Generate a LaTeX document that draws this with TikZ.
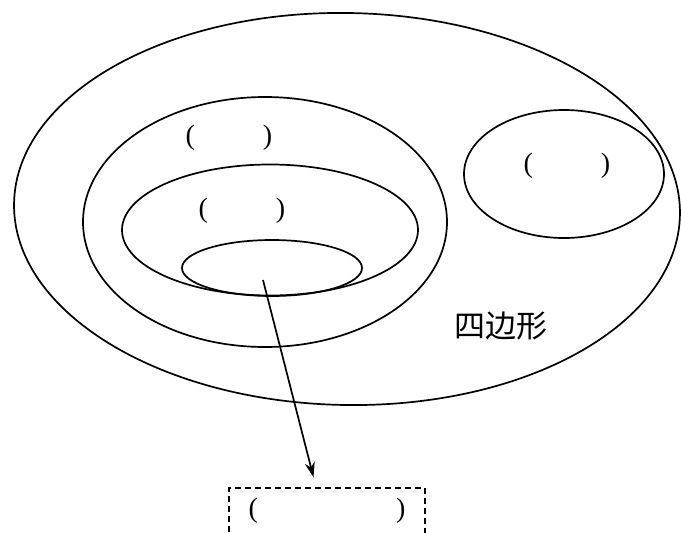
\documentclass[tikz,border=0pt]{standalone}
\usepackage{fontspec}
\setmainfont{Liberation Serif}
\newfontfamily\cjk{Noto Sans CJK SC}
\usetikzlibrary{shapes.geometric, arrows.meta, positioning}

\begin{document}
\begin{tikzpicture}[x=1pt,y=-1pt,>={Stealth[length=15pt,width=10pt]},line width=1.7pt,
            set/.style={draw,ellipse,inner sep=0pt},
            blank/.style={font=\fontsize{28}{28}\selectfont}]
            \useasboundingbox (0,0) rectangle (681,533);
            \clip (0,0) rectangle (681,533);
            \node[set,minimum width=666,minimum height=392,rotate=-1] (quad)  at (347,209) {};
            \node[set,minimum width=364,minimum height=250] (para)  at (265,222) {};
            \node[set,minimum width=296,minimum height=131] (rect)  at (270,230) {};
            \node[set,minimum width=180,minimum height=56]  (sq)    at (272,268) {};
            \node[set,minimum width=200,minimum height=128] (trap)  at (564,174) {};

            \node[blank] (lp)  at (229,138) {(\hspace{68pt})};
            \node[blank] (lr)  at (242,211) {(\hspace{68pt})};
            \node[blank] (lt)  at (567,166) {(\hspace{68pt})};
            \node[font=\cjk\fontsize{31}{31}\selectfont] (name) at (501,326) {四边形};

            \node[draw,dash pattern=on 6pt off 4pt,line width=1.5pt,
                  minimum width=196,minimum height=70,anchor=north] (ans) at (327,487) {};
            \node[blank] (la)  at (327,511) {(\hspace{138pt})};
            \coordinate (from) at (263,280);

            \draw[->,shorten >=10pt] (from) -- (316,487);
\end{tikzpicture}
\end{document}
